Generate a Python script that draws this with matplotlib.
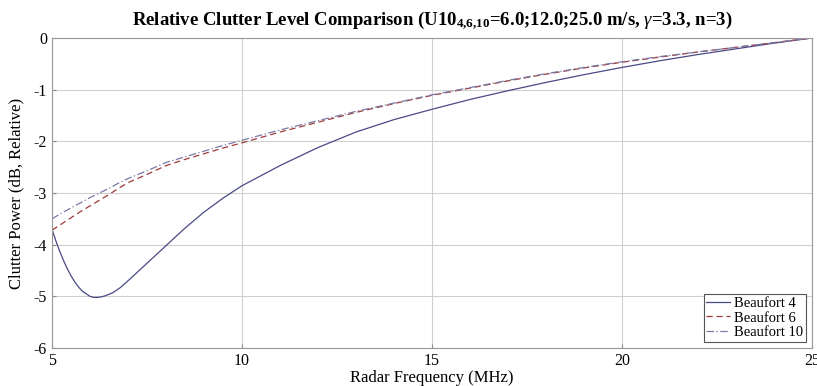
import numpy as np
import matplotlib
matplotlib.use('Agg')
import matplotlib.pyplot as plt

plt.rcParams['font.family'] = ['Liberation Serif', 'DejaVu Serif']
plt.rcParams['mathtext.fontset'] = 'custom'
plt.rcParams['mathtext.rm'] = 'Liberation Serif'
plt.rcParams['mathtext.it'] = 'Liberation Serif:italic'
plt.rcParams['mathtext.bf'] = 'Liberation Serif:bold'
plt.rcParams['axes.unicode_minus'] = False

# radar frequency (MHz) for Beaufort 4 (denser around the dip)
freq4 = [5.0, 5.1, 5.2, 5.3, 5.4, 5.5, 5.6, 5.7, 5.8, 5.9, 6.0, 6.1, 6.2, 6.3, 6.4,
         6.5, 6.6, 6.8, 7.0, 7.25, 7.5, 7.75, 8.0, 8.5, 9.0, 9.5, 10,
         11, 12, 13, 14, 15, 16, 17, 18, 19, 20, 21, 22, 23, 24, 25]
bf4 = [-3.70, -3.92, -4.12, -4.30, -4.46, -4.60, -4.72, -4.82, -4.90, -4.95, -5.00, -5.02,
       -5.02, -5.01, -4.99, -4.96, -4.93, -4.83, -4.70, -4.53, -4.36, -4.19, -4.02, -3.68,
       -3.37, -3.10, -2.86, -2.47, -2.12, -1.82, -1.58, -1.38, -1.19, -1.02, -0.86, -0.71,
       -0.57, -0.44, -0.32, -0.21, -0.10, 0.0]

# radar frequency (MHz) for Beaufort 6 / 10
freq = [5, 5.25, 5.5, 5.75, 6.0, 6.25, 6.5, 6.75, 7.0, 7.5, 8.0, 8.5, 9.0, 9.5, 10,
        11, 12, 13, 14, 15, 16, 17, 18, 19, 20, 21, 22, 23, 24, 25]
bf6 = [-3.72, -3.60, -3.48, -3.36, -3.25, -3.14, -3.03, -2.91, -2.80, -2.64, -2.47, -2.35,
       -2.24, -2.13, -2.03, -1.82, -1.63, -1.44, -1.27, -1.11, -0.97, -0.83, -0.70, -0.58,
       -0.47, -0.37, -0.27, -0.18, -0.09, 0.0]
bf10 = [-3.50, -3.39, -3.29, -3.19, -3.09, -3.00, -2.91, -2.81, -2.72, -2.57, -2.41, -2.30,
        -2.19, -2.08, -1.98, -1.78, -1.60, -1.42, -1.26, -1.10, -0.96, -0.82, -0.69, -0.57,
        -0.46, -0.36, -0.27, -0.18, -0.09, 0.0]

xticks = [5, 10, 15, 20, 25]
yticks = [0, -1, -2, -3, -4, -5, -6]

fig = plt.figure(figsize=(8.17, 3.86), dpi=100)
ax = fig.add_axes([0.0636, 0.0984, 0.9303, 0.8032])

ax.plot(freq4, bf4, '-', color='#4a4a86', lw=0.9, label='Beaufort 4')
ax.plot(freq, bf6, '--', color='#a03a3a', lw=0.9, dashes=(5, 3), label='Beaufort 6')
ax.plot(freq, bf10, '-.', color='#7a7aa6', lw=0.9, dashes=(6, 2, 1, 2), label='Beaufort 10')

ax.set_xlim(5, 25)
ax.set_ylim(-6, 0)
ax.set_xticks(xticks)
ax.set_yticks(yticks)
ax.set_yticklabels([str(v) for v in yticks])
ax.grid(True, color='#d0d0d0', lw=0.8)
ax.tick_params(direction='in', labelsize=11.5, color='#888888', length=3)
for s in ax.spines.values():
    s.set_color('#999999')
    s.set_linewidth(0.8)

ax.set_xlabel('Radar Frequency (MHz)', fontsize=12, labelpad=1)
ax.set_ylabel('Clutter Power (dB, Relative)', fontsize=12, labelpad=7)
ax.set_title(r'Relative Clutter Level Comparison (U10$_{\mathbf{4{,}6{,}10}}$=6.0;12.0;25.0 m/s, $\gamma$=3.3, n=3)',
             fontsize=13.5, fontweight='bold', pad=9)

leg = ax.legend(loc='lower right', fontsize=10.5, handlelength=1.6, handletextpad=0.3,
                borderpad=0.2, labelspacing=0.1, fancybox=False, framealpha=1,
                borderaxespad=0.4)
leg.get_frame().set_edgecolor('#555555')
leg.get_frame().set_linewidth(0.8)

fig.savefig('out.png', dpi=100)
